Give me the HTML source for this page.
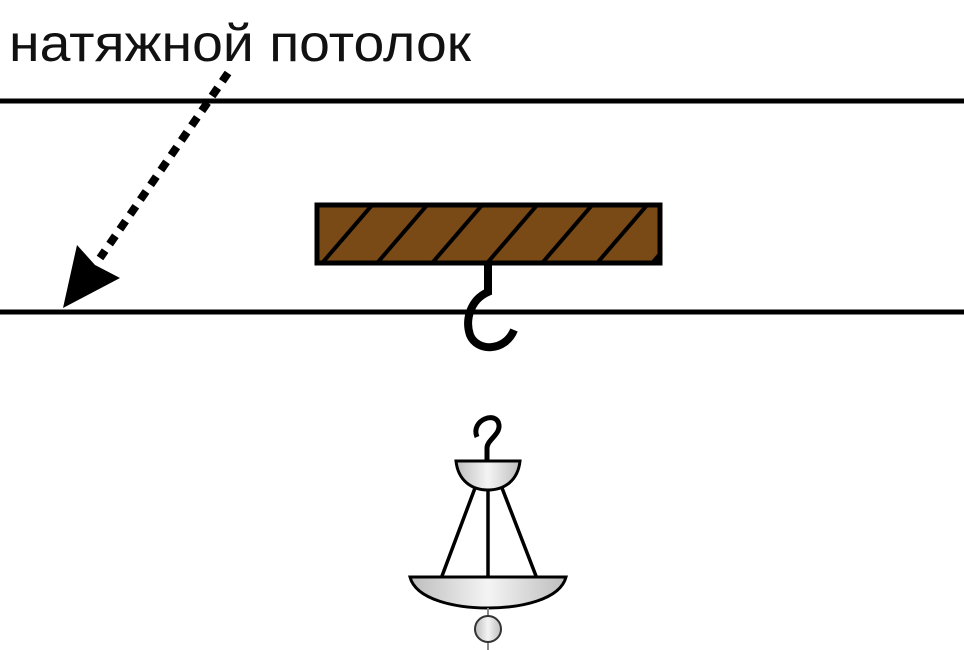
<!DOCTYPE html>
<html><head><meta charset="utf-8"><style>body{margin:0;background:#fff}svg{display:block}</style></head><body>
<svg width="964" height="650" viewBox="0 0 964 650" xmlns="http://www.w3.org/2000/svg">
<defs>
<linearGradient id="g" x1="0" x2="1" y1="0" y2="0"><stop offset="0" stop-color="#bdbdbd"/><stop offset="0.5" stop-color="#f4f4f4"/><stop offset="1" stop-color="#bdbdbd"/></linearGradient>
<clipPath id="c"><rect x="318" y="206" width="340" height="56"/></clipPath>
</defs>
<text x="9" y="61" font-family="Liberation Sans, sans-serif" font-size="52" fill="#111" textLength="462" lengthAdjust="spacingAndGlyphs">натяжной потолок</text>
<line x1="0" y1="101" x2="964" y2="101" stroke="#000" stroke-width="5"/>
<line x1="0" y1="312" x2="964" y2="312" stroke="#000" stroke-width="5"/>
<line x1="228" y1="73" x2="100" y2="258" stroke="#000" stroke-width="8" stroke-dasharray="10 8"/>
<polygon points="63,308 77,245 95,265 120,278" fill="#000"/>
<rect x="317" y="205" width="343" height="58" fill="#7a4a16" stroke="#000" stroke-width="5"/>
<g clip-path="url(#c)" stroke="#000" stroke-width="4">
<line x1="323" y1="262" x2="373" y2="204"/><line x1="378" y1="262" x2="428" y2="204"/><line x1="433" y1="262" x2="483" y2="204"/><line x1="488" y1="262" x2="538" y2="204"/><line x1="543" y1="262" x2="593" y2="204"/><line x1="598" y1="262" x2="648" y2="204"/><line x1="653" y1="262" x2="703" y2="204"/>
</g>
<path d="M488 265 V292 C470 300 465 320 470 335 C477 352 505 352 514 330" fill="none" stroke="#000" stroke-width="8"/>
<path d="M477 437 C470 420 497 410 499 425 C500 435 487 440 487 448 V462" fill="none" stroke="#000" stroke-width="5"/>
<line x1="475" y1="488" x2="442" y2="576" stroke="#000" stroke-width="3.5"/>
<line x1="488" y1="488" x2="488" y2="576" stroke="#000" stroke-width="3.5"/>
<line x1="502" y1="488" x2="536" y2="576" stroke="#000" stroke-width="3.5"/>
<path d="M456 461 H520 C518 480 505 490 488 490 C471 490 458 480 456 461 Z" fill="url(#g)" stroke="#000" stroke-width="3"/>
<path d="M410 577 H566 C560 600 520 608 488 608 C456 608 416 600 410 577 Z" fill="url(#g)" stroke="#000" stroke-width="3"/>
<line x1="488" y1="608" x2="488" y2="650" stroke="#888" stroke-width="2"/>
<circle cx="488" cy="629" r="13" fill="url(#g)" stroke="#333" stroke-width="2"/>
</svg>
</body></html>
